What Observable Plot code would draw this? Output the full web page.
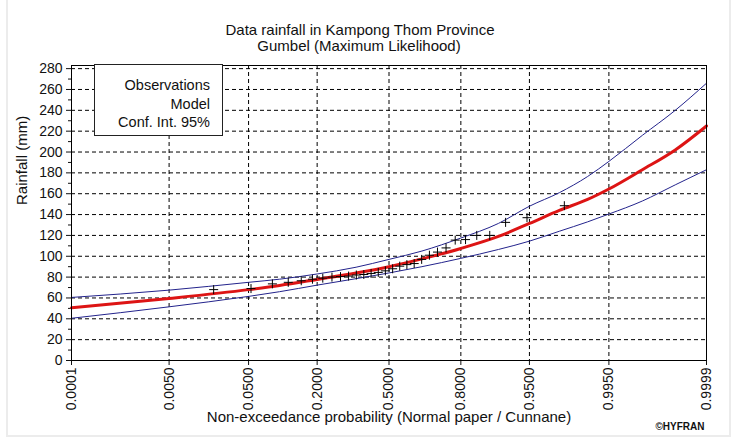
<!DOCTYPE html>
<html>
<head>
<meta charset="utf-8">
<script src="https://cdn.jsdelivr.net/npm/d3@7"></script>
<script src="https://cdn.jsdelivr.net/npm/@observablehq/plot@0.6"></script>
<style>
  html, body { margin: 0; padding: 0; background: #fff; }
  #wrap { position: relative; width: 734px; height: 438px; font-family: "Liberation Sans", Arial, sans-serif; }
  #wrap svg { position: absolute; left: 0; top: 0; }
  #edge { position: absolute; left: 6px; top: 0; width: 721px; height: 435px;
          border-left: 2px solid #ececec; border-right: 2px solid #ececec; border-bottom: 2px solid #ececec; }
  #legend { position: absolute; left: 94px; top: 64px; width: 129px; height: 72px; box-sizing: border-box;
            border: 1px solid #222; background: #fff; padding: 11px 12px 0 0; text-align: right;
            font-size: 14.5px; line-height: 18.5px; color: #111; }
</style>
</head>
<body>
<div id="wrap"><div id="edge"></div></div>
<script>
// Probability axis: ticks and their printed labels
const tickProbs  = [0.0001, 0.005, 0.05, 0.2, 0.5, 0.8, 0.95, 0.995, 0.9999];
const tickLabels = ["0.0001", "0.0050", "0.0500", "0.2000", "0.5000", "0.8000", "0.9500", "0.9950", "0.9999"];

// Rainfall axis ticks
const yTicks = [0, 20, 40, 60, 80, 100, 120, 140, 160, 180, 200, 220, 240, 260, 280];
const yMinor = [10, 30, 50, 70, 90, 110, 130, 150, 170, 190, 210, 230, 250, 270];

// Fitted Gumbel quantiles and 95% confidence bounds (mm) at these probabilities
const curveProbs  = [0.0001, 0.005, 0.05, 0.1, 0.2, 0.35, 0.5, 0.65, 0.8, 0.9, 0.95, 0.977, 0.99, 0.995, 0.9985, 0.9996, 0.9999];
const modelValues = [50.5, 59.5, 68, 72, 77.8, 84, 90, 97.5, 107.5, 119, 131.5, 144, 154.5, 164.5, 183, 202, 225];
const upperValues = [60.5, 67.5, 75, 78, 83, 89.5, 97, 105, 117.5, 131.5, 148, 161, 176.5, 191, 216, 240, 266];
const lowerValues = [40.5, 51.5, 61.5, 66, 72.3, 78.5, 84, 90, 98, 106.5, 114.5, 124, 133, 140.5, 153, 168.5, 183];

// Annual maximum rainfall observations with Cunnane plotting positions
const obsProbs = [0.020, 0.053, 0.086, 0.119, 0.152, 0.185, 0.219, 0.252, 0.285, 0.318,
                  0.351, 0.384, 0.417, 0.450, 0.483, 0.517, 0.550, 0.583, 0.616, 0.649,
                  0.682, 0.715, 0.748, 0.781, 0.815, 0.848, 0.881, 0.914, 0.947, 0.980];
const obsRain  = [68, 69, 73.5, 75, 76.5, 78, 79, 80, 80.5, 81,
                  82, 82.5, 83.5, 84.5, 86, 88, 90.5, 92, 93, 97,
                  101, 104, 108, 115.5, 116, 120, 120, 132.5, 137, 148.5];

// Inverse standard normal CDF (Acklam) for normal probability paper
function probit(p) {
  const a = [-3.969683028665376e+01, 2.209460984245205e+02, -2.759285104469687e+02, 1.383577518672690e+02, -3.066479806614716e+01, 2.506628277459239e+00];
  const b = [-5.447609879822406e+01, 1.615858368580409e+02, -1.556989798598866e+02, 6.680131188771972e+01, -1.328068155288572e+01];
  const c = [-7.784894002430293e-03, -3.223964580411365e-01, -2.400758277161838e+00, -2.549732539343734e+00, 4.374664141464968e+00, 2.938163982698783e+00];
  const d = [7.784695709041462e-03, 3.224671290700398e-01, 2.445134137142996e+00, 3.754408661907416e+00];
  const plow = 0.02425, phigh = 1 - plow;
  if (p < plow) {
    const q = Math.sqrt(-2 * Math.log(p));
    return (((((c[0]*q+c[1])*q+c[2])*q+c[3])*q+c[4])*q+c[5]) / ((((d[0]*q+d[1])*q+d[2])*q+d[3])*q+1);
  }
  if (p <= phigh) {
    const q = p - 0.5, r = q * q;
    return (((((a[0]*r+a[1])*r+a[2])*r+a[3])*r+a[4])*r+a[5])*q / (((((b[0]*r+b[1])*r+b[2])*r+b[3])*r+b[4])*r+1);
  }
  const q = Math.sqrt(-2 * Math.log(1 - p));
  return -(((((c[0]*q+c[1])*q+c[2])*q+c[3])*q+c[4])*q+c[5]) / ((((d[0]*q+d[1])*q+d[2])*q+d[3])*q+1);
}

const tickZ = tickProbs.map(probit);
const curves = curveProbs.map((p, i) => ({z: probit(p), model: modelValues[i], upper: upperValues[i], lower: lowerValues[i]}));
const obs = obsProbs.map((p, i) => ({z: probit(p), rain: obsRain[i]}));

// Open "+" marker drawn as two strokes
const plusStroke = {
  draw(context, size) {
    const r = Math.sqrt(size / Math.PI);
    context.moveTo(-r, 0); context.lineTo(r, 0);
    context.moveTo(0, -r); context.lineTo(0, r);
  }
};

const font = "Liberation Sans, Arial, sans-serif";
const ink = "#111";
const bandColor = "#23238c";

const chart = Plot.plot({
  width: 734,
  height: 438,
  marginLeft: 71,
  marginRight: 28,
  marginTop: 65,
  marginBottom: 78,
  style: {fontFamily: font, color: ink, background: "transparent", overflow: "visible"},
  x: {type: "linear", domain: [probit(0.0001), probit(0.9999)]},
  y: {domain: [0, 283]},
  marks: [
    Plot.gridY(yTicks.filter(v => v > 0), {stroke: "#000", strokeOpacity: 1, strokeDasharray: "4,3"}),
    Plot.gridX(tickZ.slice(1, -1), {stroke: "#000", strokeOpacity: 1, strokeDasharray: "4,3"}),
    Plot.axisY(yTicks, {tickSize: 5, tickPadding: 4, fontSize: 14, label: null, stroke: ink}),
    Plot.axisY(yMinor, {tickSize: 3, tickFormat: () => "", label: null, stroke: ink}),
    Plot.axisX(tickZ, {tickSize: 5, tickPadding: 2, tickRotate: -90, fontSize: 14, label: null, stroke: ink,
                       tickFormat: (z) => tickLabels[tickZ.indexOf(z)]}),
    Plot.line(curves, {x: "z", y: "upper", stroke: bandColor, strokeWidth: 1, curve: "monotone-x"}),
    Plot.line(curves, {x: "z", y: "lower", stroke: bandColor, strokeWidth: 1, curve: "monotone-x"}),
    Plot.line(curves, {x: "z", y: "model", stroke: "#dd1414", strokeWidth: 3, curve: "monotone-x"}),
    Plot.dot(obs, {x: "z", y: "rain", symbol: plusStroke, r: 4.5, stroke: "#000", strokeWidth: 1, fill: "none"}),
    Plot.frame({stroke: "#000", strokeWidth: 1}),
    Plot.text(["Data rainfall in Kampong Thom Province"], {frameAnchor: "top", dx: -29, dy: -41, fontSize: 15, fill: ink}),
    Plot.text(["Gumbel (Maximum Likelihood)"], {frameAnchor: "top", dx: -30, dy: -25, fontSize: 15, fill: ink}),
    Plot.text(["Non-exceedance probability (Normal paper / Cunnane)"], {frameAnchor: "bottom", dy: 61, fontSize: 15, fill: ink}),
    Plot.text(["Rainfall (mm)"], {frameAnchor: "left", dx: -49, dy: -8, rotate: -90, fontSize: 15, fill: ink}),
    Plot.text(["\u00a9HYFRAN"], {frameAnchor: "bottom-right", textAnchor: "end", dx: -2, dy: 69, fontSize: 10, fontWeight: "bold", fill: ink})
  ]
});

const wrap = document.getElementById("wrap");
wrap.appendChild(chart);

const legend = document.createElement("div");
legend.id = "legend";
legend.innerHTML = "Observations<br>Model<br>Conf. Int. 95%";
wrap.appendChild(legend);
</script>
</body>
</html>
